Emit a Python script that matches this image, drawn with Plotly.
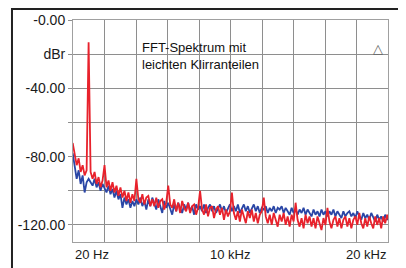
import plotly.graph_objects as go

# FFT bin centre frequencies (Hz)
FREQ_HZ = [126.25 * k for k in range(160)]

# Red trace: test signal with light harmonic distortion (dBr)
RED_DBR = [
    -72, -80, -85, -81, -89, -85, -91, -88, -13, -89,
    -93, -89, -96, -92, -98, -94, -85, -98, -94, -100,
    -95, -101, -97, -103, -98, -104, -100, -106, -101, -107,
    -102, -106, -93, -105, -107, -102, -108, -104, -103, -109,
    -105, -109, -104, -110, -106, -105, -111, -107, -97, -108,
    -110, -105, -112, -107, -113, -106, -110, -112, -107, -113,
    -109, -108, -114, -110, -100, -111, -114, -108, -115, -110,
    -109, -116, -111, -109, -114, -110, -117, -111, -115, -112,
    -101, -113, -117, -112, -118, -111, -115, -119, -112, -116,
    -111, -118, -113, -119, -114, -112, -104, -115, -119, -114,
    -120, -113, -117, -121, -114, -118, -113, -120, -115, -121,
    -114, -118, -107, -117, -121, -116, -122, -114, -119, -115,
    -121, -116, -122, -115, -119, -123, -116, -120, -110, -118,
    -122, -117, -115, -121, -116, -122, -117, -115, -121, -116,
    -122, -117, -115, -120, -113, -119, -122, -116, -121, -115,
    -119, -122, -115, -120, -116, -122, -115, -119, -114, -118,
]

# Blue trace: reference noise floor (dBr)
BLUE_DBR = [
    -78, -87, -93, -88, -96, -91, -101, -95, -93, -95,
    -97, -93, -98, -95, -100, -96, -99, -101, -97, -102,
    -99, -104, -100, -105, -102, -110, -104, -108, -105, -110,
    -106, -109, -105, -108, -104, -109, -106, -111, -105, -109,
    -104, -108, -111, -105, -109, -113, -106, -110, -107, -111,
    -114, -108, -112, -107, -110, -113, -108, -111, -107, -112,
    -109, -114, -108, -111, -109, -112, -108, -113, -110, -108,
    -112, -109, -113, -110, -108, -112, -109, -113, -110, -108,
    -112, -109, -112, -108, -113, -110, -108, -112, -109, -113,
    -110, -108, -112, -109, -113, -110, -111, -109, -113, -110,
    -112, -109, -113, -110, -111, -109, -113, -110, -112, -114,
    -110, -113, -111, -114, -111, -113, -110, -114, -111, -113,
    -115, -111, -114, -112, -115, -111, -114, -112, -115, -112,
    -114, -111, -115, -112, -114, -116, -112, -115, -113, -112,
    -115, -113, -116, -112, -115, -117, -113, -116, -114, -117,
    -113, -116, -118, -114, -117, -115, -118, -114, -117, -115,
]

Y_TICK_VALUES = [0, -20, -40, -60, -80, -100, -120]
Y_TICK_TEXT = ["-0.00", "dBr", "-40.00", "", "-80.00", "", "-120.00"]
X_LABELS = ["20 Hz", "10 kHz", "20 kHz"]
X_LABEL_POS = [20, 10000, 20000]
TITLE_TEXT = "FFT-Spektrum mit<br>leichten Klirranteilen"

GRID = "#8e8e8e"
FONT = "Liberation Sans, Arial, sans-serif"

fig = go.Figure()
fig.add_trace(go.Scatter(x=FREQ_HZ, y=BLUE_DBR, mode="lines",
                         line=dict(color="#2a46a6", width=1.8), hoverinfo="skip"))
fig.add_trace(go.Scatter(x=FREQ_HZ, y=RED_DBR, mode="lines",
                         line=dict(color="#e8222c", width=1.8), hoverinfo="skip"))

# page body has an 8px margin, so the figure is sized to fit inside the window
fig.update_layout(
    width=398, height=260, autosize=False,
    margin=dict(l=65, r=18, t=12, b=26, autoexpand=False),
    paper_bgcolor="white", plot_bgcolor="white",
    showlegend=False,
    font=dict(family=FONT, color="#1a1a1a"),
)
fig.update_xaxes(
    range=[20, 20000], tickmode="linear", tick0=20, dtick=1998,
    showticklabels=False, showgrid=True, gridcolor=GRID, gridwidth=1,
    zeroline=False, showline=True, mirror=True, linecolor="#a0a0a0",
    linewidth=1, ticks="", automargin=False,
)
fig.update_yaxes(
    range=[-130, 0], tickmode="array", tickvals=Y_TICK_VALUES, ticktext=Y_TICK_TEXT,
    showgrid=True, gridcolor=GRID, gridwidth=1, zeroline=False,
    showline=True, mirror=True, linecolor="#a0a0a0", linewidth=1,
    ticks="outside", ticklen=4, tickcolor=GRID, automargin=False,
    tickfont=dict(size=14, family=FONT, color="#1a1a1a"),
)

anchors = ["left", "center", "right"]
for lab, pos, anc in zip(X_LABELS, X_LABEL_POS, anchors):
    fig.add_annotation(x=pos, y=-0.058, xref="x", yref="paper", text=lab,
                       showarrow=False, xanchor=anc, yanchor="middle",
                       font=dict(size=13, family=FONT, color="#1a1a1a"))

fig.add_annotation(x=4270, y=0.92, xref="x", yref="paper", text=TITLE_TEXT,
                   showarrow=False, xanchor="left", yanchor="top", align="left",
                   font=dict(size=13, family=FONT, color="#111111"))

fig.add_annotation(x=0.968, y=0.87, xref="paper", yref="paper", text="△",
                   showarrow=False, xanchor="center", yanchor="middle",
                   font=dict(size=13, family="DejaVu Sans", color="#666666"))

# outer frame
fig.add_shape(type="rect", xref="paper", yref="paper",
              x0=-0.1937, x1=1.0476, y0=-0.16, y1=1.049,
              line=dict(color="#222222", width=2), fillcolor="rgba(0,0,0,0)",
              layer="above")

fig.write_html("out.html")
